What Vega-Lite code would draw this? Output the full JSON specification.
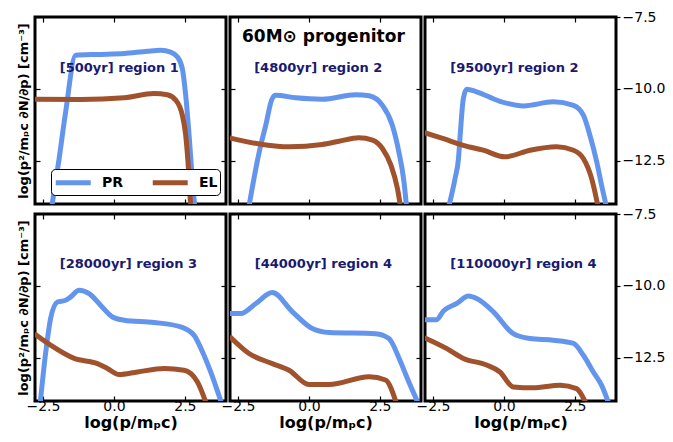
{
  "$schema": "https://vega.github.io/schema/vega-lite/v6.json",
  "background": "white",
  "padding": {"left": 15, "top": 8, "right": 0, "bottom": 0},
  "datasets": {
    "curves": [
      {"panel":1,"series":"PR","x":-2.22,"y":-14.3},{"panel":1,"series":"PR","x":-1.93,"y":-12.42},{"panel":1,"series":"PR","x":-1.70,"y":-10.80},{"panel":1,"series":"PR","x":-1.35,"y":-8.83},{"panel":1,"series":"PR","x":-0.58,"y":-8.80},{"panel":1,"series":"PR","x":0.36,"y":-8.77},{"panel":1,"series":"PR","x":1.18,"y":-8.69},{"panel":1,"series":"PR","x":1.65,"y":-8.66},{"panel":1,"series":"PR","x":2.0,"y":-8.72},{"panel":1,"series":"PR","x":2.24,"y":-8.89},{"panel":1,"series":"PR","x":2.41,"y":-9.29},{"panel":1,"series":"PR","x":2.53,"y":-10.22},{"panel":1,"series":"PR","x":2.65,"y":-11.61},{"panel":1,"series":"PR","x":2.76,"y":-13.11},{"panel":1,"series":"PR","x":2.87,"y":-14.3},
      {"panel":1,"series":"EL","x":-2.8,"y":-10.36},{"panel":1,"series":"EL","x":-1.17,"y":-10.37},{"panel":1,"series":"EL","x":0.36,"y":-10.31},{"panel":1,"series":"EL","x":1.41,"y":-10.16},{"panel":1,"series":"EL","x":1.88,"y":-10.2},{"panel":1,"series":"EL","x":2.18,"y":-10.39},{"panel":1,"series":"EL","x":2.41,"y":-10.91},{"panel":1,"series":"EL","x":2.53,"y":-11.61},{"panel":1,"series":"EL","x":2.61,"y":-12.53},{"panel":1,"series":"EL","x":2.7,"y":-13.98},{"panel":1,"series":"EL","x":2.73,"y":-14.3},
      {"panel":2,"series":"PR","x":-2.15,"y":-14.3},{"panel":2,"series":"PR","x":-1.75,"y":-12.19},{"panel":2,"series":"PR","x":-1.52,"y":-11.26},{"panel":2,"series":"PR","x":-1.30,"y":-10.35},{"panel":2,"series":"PR","x":-1.17,"y":-10.22},{"panel":2,"series":"PR","x":-0.46,"y":-10.31},{"panel":2,"series":"PR","x":0.47,"y":-10.36},{"panel":2,"series":"PR","x":1.65,"y":-10.2},{"panel":2,"series":"PR","x":2.12,"y":-10.24},{"panel":2,"series":"PR","x":2.59,"y":-10.57},{"panel":2,"series":"PR","x":2.94,"y":-11.26},{"panel":2,"series":"PR","x":3.17,"y":-12.19},{"panel":2,"series":"PR","x":3.35,"y":-13.23},{"panel":2,"series":"PR","x":3.46,"y":-14.3},
      {"panel":2,"series":"EL","x":-2.8,"y":-11.70},{"panel":2,"series":"EL","x":-1.64,"y":-11.93},{"panel":2,"series":"EL","x":-0.7,"y":-12.01},{"panel":2,"series":"EL","x":0.47,"y":-11.93},{"panel":2,"series":"EL","x":1.06,"y":-11.82},{"panel":2,"series":"EL","x":1.76,"y":-11.7},{"panel":2,"series":"EL","x":2.24,"y":-11.78},{"panel":2,"series":"EL","x":2.59,"y":-12.07},{"panel":2,"series":"EL","x":2.89,"y":-12.65},{"panel":2,"series":"EL","x":3.12,"y":-13.46},{"panel":2,"series":"EL","x":3.26,"y":-14.3},
      {"panel":3,"series":"PR","x":-2.0,"y":-14.3},{"panel":3,"series":"PR","x":-1.72,"y":-13.11},{"panel":3,"series":"PR","x":-1.60,"y":-12.42},{"panel":3,"series":"PR","x":-1.54,"y":-11.61},{"panel":3,"series":"PR","x":-1.43,"y":-10.34},{"panel":3,"series":"PR","x":-1.31,"y":-10.01},{"panel":3,"series":"PR","x":-0.96,"y":-10.1},{"panel":3,"series":"PR","x":-0.14,"y":-10.43},{"panel":3,"series":"PR","x":0.69,"y":-10.59},{"panel":3,"series":"PR","x":1.74,"y":-10.45},{"panel":3,"series":"PR","x":2.45,"y":-10.57},{"panel":3,"series":"PR","x":2.8,"y":-10.91},{"panel":3,"series":"PR","x":3.03,"y":-11.61},{"panel":3,"series":"PR","x":3.27,"y":-12.53},{"panel":3,"series":"PR","x":3.44,"y":-13.34},{"panel":3,"series":"PR","x":3.66,"y":-14.3},
      {"panel":3,"series":"EL","x":-2.8,"y":-11.52},{"panel":3,"series":"EL","x":-2.13,"y":-11.73},{"panel":3,"series":"EL","x":-1.43,"y":-11.96},{"panel":3,"series":"EL","x":-0.73,"y":-12.13},{"panel":3,"series":"EL","x":0.04,"y":-12.36},{"panel":3,"series":"EL","x":0.92,"y":-12.13},{"panel":3,"series":"EL","x":1.86,"y":-12.01},{"panel":3,"series":"EL","x":2.45,"y":-12.13},{"panel":3,"series":"EL","x":2.8,"y":-12.42},{"panel":3,"series":"EL","x":3.09,"y":-13.11},{"panel":3,"series":"EL","x":3.36,"y":-14.3},
      {"panel":4,"series":"PR","x":-2.62,"y":-14.3},{"panel":4,"series":"PR","x":-2.40,"y":-12.29},{"panel":4,"series":"PR","x":-2.23,"y":-11.13},{"panel":4,"series":"PR","x":-1.99,"y":-10.56},{"panel":4,"series":"PR","x":-1.70,"y":-10.5},{"panel":4,"series":"PR","x":-1.52,"y":-10.38},{"panel":4,"series":"PR","x":-1.23,"y":-10.15},{"panel":4,"series":"PR","x":-0.87,"y":-10.27},{"panel":4,"series":"PR","x":-0.47,"y":-10.67},{"panel":4,"series":"PR","x":-0.05,"y":-11.08},{"panel":4,"series":"PR","x":0.36,"y":-11.19},{"panel":4,"series":"PR","x":1.41,"y":-11.27},{"panel":4,"series":"PR","x":2.35,"y":-11.42},{"panel":4,"series":"PR","x":2.82,"y":-11.71},{"panel":4,"series":"PR","x":3.12,"y":-12.29},{"panel":4,"series":"PR","x":3.41,"y":-12.99},{"panel":4,"series":"PR","x":3.80,"y":-14.1},
      {"panel":4,"series":"EL","x":-2.8,"y":-11.66},{"panel":4,"series":"EL","x":-2.23,"y":-12.06},{"panel":4,"series":"EL","x":-1.4,"y":-12.52},{"panel":4,"series":"EL","x":-0.58,"y":-12.7},{"panel":4,"series":"EL","x":-0.23,"y":-12.87},{"panel":4,"series":"EL","x":0.18,"y":-13.08},{"panel":4,"series":"EL","x":0.83,"y":-12.99},{"panel":4,"series":"EL","x":1.77,"y":-12.87},{"panel":4,"series":"EL","x":2.47,"y":-12.93},{"panel":4,"series":"EL","x":2.94,"y":-13.33},{"panel":4,"series":"EL","x":3.26,"y":-14.1},
      {"panel":5,"series":"PR","x":-2.8,"y":-10.96},{"panel":5,"series":"PR","x":-2.4,"y":-10.96},{"panel":5,"series":"PR","x":-1.87,"y":-10.61},{"panel":5,"series":"PR","x":-1.29,"y":-10.23},{"panel":5,"series":"PR","x":-0.58,"y":-10.9},{"panel":5,"series":"PR","x":0.12,"y":-11.48},{"panel":5,"series":"PR","x":0.71,"y":-11.62},{"panel":5,"series":"PR","x":2.35,"y":-11.66},{"panel":5,"series":"PR","x":2.82,"y":-11.83},{"panel":5,"series":"PR","x":3.18,"y":-12.52},{"panel":5,"series":"PR","x":3.47,"y":-13.22},{"panel":5,"series":"PR","x":3.86,"y":-14.1},
      {"panel":5,"series":"EL","x":-2.8,"y":-11.75},{"panel":5,"series":"EL","x":-2.11,"y":-12.35},{"panel":5,"series":"EL","x":-1.29,"y":-12.7},{"panel":5,"series":"EL","x":-0.7,"y":-12.93},{"panel":5,"series":"EL","x":0.0,"y":-13.43},{"panel":5,"series":"EL","x":0.71,"y":-13.43},{"panel":5,"series":"EL","x":2.12,"y":-13.16},{"panel":5,"series":"EL","x":2.7,"y":-13.27},{"panel":5,"series":"EL","x":3.09,"y":-14.1},
      {"panel":6,"series":"PR","x":-2.8,"y":-11.18},{"panel":6,"series":"PR","x":-2.38,"y":-11.18},{"panel":6,"series":"PR","x":-2.13,"y":-10.87},{"panel":6,"series":"PR","x":-1.66,"y":-10.61},{"panel":6,"series":"PR","x":-1.25,"y":-10.35},{"panel":6,"series":"PR","x":-0.96,"y":-10.44},{"panel":6,"series":"PR","x":-0.37,"y":-10.9},{"panel":6,"series":"PR","x":0.33,"y":-11.66},{"panel":6,"series":"PR","x":0.92,"y":-11.83},{"panel":6,"series":"PR","x":1.74,"y":-11.89},{"panel":6,"series":"PR","x":2.45,"y":-12.0},{"panel":6,"series":"PR","x":2.8,"y":-12.41},{"panel":6,"series":"PR","x":3.15,"y":-12.99},{"panel":6,"series":"PR","x":3.44,"y":-13.45},{"panel":6,"series":"PR","x":3.70,"y":-14.1},
      {"panel":6,"series":"EL","x":-2.8,"y":-11.8},{"panel":6,"series":"EL","x":-2.01,"y":-12.18},{"panel":6,"series":"EL","x":-1.43,"y":-12.52},{"panel":6,"series":"EL","x":-0.61,"y":-12.75},{"panel":6,"series":"EL","x":-0.14,"y":-12.99},{"panel":6,"series":"EL","x":0.33,"y":-13.51},{"panel":6,"series":"EL","x":1.03,"y":-13.54},{"panel":6,"series":"EL","x":1.98,"y":-13.45},{"panel":6,"series":"EL","x":2.56,"y":-13.57},{"panel":6,"series":"EL","x":2.90,"y":-14.1}
    ],
    "labels": [
      {"panel":1,"x":0.19,"y":-9.27,"text":"[500yr] region 1"},
      {"panel":2,"x":0.33,"y":-9.27,"text":"[4800yr] region 2"},
      {"panel":3,"x":0.37,"y":-9.27,"text":"[9500yr] region 2"},
      {"panel":4,"x":0.51,"y":-9.24,"text":"[28000yr] region 3"},
      {"panel":5,"x":0.51,"y":-9.24,"text":"[44000yr] region 4"},
      {"panel":6,"x":0.69,"y":-9.24,"text":"[110000yr] region 4"}
    ],
    "heading": [
      {"panel":2,"x":0.51,"y":-8.19,"text":"60M⊙ progenitor"}
    ]
  },
  "columns": 3,
  "spacing": {"row": 10, "column": 4},
  "bounds": "flush",
  "resolve": {"legend": {"color": "independent"}},
  "concat": [
    {
      "width": 191, "height": 187,
      "resolve": {"axis": {"x": "independent", "y": "independent"}},
      "layer": [
        {"data": {"name": "curves"}, "transform": [{"filter": "datum.panel == 1"}],
         "mark": {"type": "line", "strokeWidth": 5, "clip": true, "interpolate": "monotone"},
         "encoding": {
           "x": {"field": "x", "type": "quantitative", "scale": {"domain": [-2.78, 3.95], "nice": false, "zero": false}, "axis": {"orient": "bottom", "values": [-2.5, 0, 2.5], "labels": false, "title": null}},
           "y": {"field": "y", "type": "quantitative", "scale": {"domain": [-14, -7.5], "nice": false, "zero": false}, "axis": {"orient": "left", "values": [-7.5, -10, -12.5], "labels": false, "title": "log(p²/mₚc ∂N/∂p) [cm⁻³]", "titleFontSize": 13, "titlePadding": 4}},
           "color": {"field": "series", "type": "nominal", "scale": {"domain": ["PR", "EL"], "range": ["#6495ED", "#A0522D"]},
             "legend": {"orient": "none", "legendX": 16, "legendY": 152, "direction": "horizontal", "title": null, "symbolType": "M-1,0H3", "symbolStrokeWidth": 5, "symbolSize": 306, "labelFontSize": 14, "labelFontWeight": "bold", "labelColor": "#000", "strokeColor": "#000", "fillColor": "#fff", "cornerRadius": 4, "padding": 2, "columnPadding": 18, "labelOffset": 26}}
         }},
        {"data": {"name": "labels"}, "transform": [{"filter": "datum.panel == 1"}],
         "mark": {"type": "text", "fontSize": 13, "fontWeight": "bold", "color": "#191970"},
         "encoding": {
           "x": {"field": "x", "type": "quantitative", "scale": {"domain": [-2.78, 3.95], "nice": false, "zero": false}, "axis": {"orient": "top", "values": [-2.5, 0, 2.5], "labels": false, "title": null}},
           "y": {"field": "y", "type": "quantitative", "scale": {"domain": [-14, -7.5], "nice": false, "zero": false}, "axis": {"orient": "right", "values": [-7.5, -10, -12.5], "labels": false, "title": null}},
           "text": {"field": "text"}
         }}
      ]
    },
    {
      "width": 191, "height": 187,
      "resolve": {"axis": {"x": "independent", "y": "independent"}},
      "layer": [
        {"data": {"name": "curves"}, "transform": [{"filter": "datum.panel == 2"}],
         "mark": {"type": "line", "strokeWidth": 5, "clip": true, "interpolate": "monotone"},
         "encoding": {
           "x": {"field": "x", "type": "quantitative", "scale": {"domain": [-2.78, 3.95], "nice": false, "zero": false}, "axis": {"orient": "bottom", "values": [-2.5, 0, 2.5], "labels": false, "title": null}},
           "y": {"field": "y", "type": "quantitative", "scale": {"domain": [-14, -7.5], "nice": false, "zero": false}, "axis": {"orient": "left", "values": [-7.5, -10, -12.5], "labels": false, "title": null}},
           "color": {"field": "series", "type": "nominal", "scale": {"domain": ["PR", "EL"], "range": ["#6495ED", "#A0522D"]}, "legend": null}
         }},
        {"data": {"name": "labels"}, "transform": [{"filter": "datum.panel == 2"}],
         "mark": {"type": "text", "fontSize": 13, "fontWeight": "bold", "color": "#191970"},
         "encoding": {
           "x": {"field": "x", "type": "quantitative", "scale": {"domain": [-2.78, 3.95], "nice": false, "zero": false}, "axis": {"orient": "top", "values": [-2.5, 0, 2.5], "labels": false, "title": null}},
           "y": {"field": "y", "type": "quantitative", "scale": {"domain": [-14, -7.5], "nice": false, "zero": false}, "axis": {"orient": "right", "values": [-7.5, -10, -12.5], "labels": false, "title": null}},
           "text": {"field": "text"}
         }},
        {"data": {"name": "heading"},
         "mark": {"type": "text", "fontSize": 17, "fontWeight": "bold", "color": "#000"},
         "encoding": {
           "x": {"field": "x", "type": "quantitative", "axis": null},
           "y": {"field": "y", "type": "quantitative", "axis": null},
           "text": {"field": "text"}
         }}
      ]
    },
    {
      "width": 191, "height": 187,
      "resolve": {"axis": {"x": "independent", "y": "independent"}},
      "layer": [
        {"data": {"name": "curves"}, "transform": [{"filter": "datum.panel == 3"}],
         "mark": {"type": "line", "strokeWidth": 5, "clip": true, "interpolate": "monotone"},
         "encoding": {
           "x": {"field": "x", "type": "quantitative", "scale": {"domain": [-2.78, 3.95], "nice": false, "zero": false}, "axis": {"orient": "bottom", "values": [-2.5, 0, 2.5], "labels": false, "title": null}},
           "y": {"field": "y", "type": "quantitative", "scale": {"domain": [-14, -7.5], "nice": false, "zero": false}, "axis": {"orient": "left", "values": [-7.5, -10, -12.5], "labels": false, "title": null}},
           "color": {"field": "series", "type": "nominal", "scale": {"domain": ["PR", "EL"], "range": ["#6495ED", "#A0522D"]}, "legend": null}
         }},
        {"data": {"name": "labels"}, "transform": [{"filter": "datum.panel == 3"}],
         "mark": {"type": "text", "fontSize": 13, "fontWeight": "bold", "color": "#191970"},
         "encoding": {
           "x": {"field": "x", "type": "quantitative", "scale": {"domain": [-2.78, 3.95], "nice": false, "zero": false}, "axis": {"orient": "top", "values": [-2.5, 0, 2.5], "labels": false, "title": null}},
           "y": {"field": "y", "type": "quantitative", "scale": {"domain": [-14, -7.5], "nice": false, "zero": false}, "axis": {"orient": "right", "values": [-7.5, -10, -12.5], "format": ".1f", "labels": true, "tickSize": 4, "labelPadding": 2, "title": null}},
           "text": {"field": "text"}
         }}
      ]
    },
    {
      "width": 191, "height": 187,
      "resolve": {"axis": {"x": "independent", "y": "independent"}},
      "layer": [
        {"data": {"name": "curves"}, "transform": [{"filter": "datum.panel == 4"}],
         "mark": {"type": "line", "strokeWidth": 5, "clip": true, "interpolate": "monotone"},
         "encoding": {
           "x": {"field": "x", "type": "quantitative", "scale": {"domain": [-2.78, 3.95], "nice": false, "zero": false}, "axis": {"orient": "bottom", "values": [-2.5, 0, 2.5], "format": ".1f", "labels": true, "title": "log(p/mₚc)", "titleFontSize": 16, "titlePadding": 1, "labelPadding": 3}},
           "y": {"field": "y", "type": "quantitative", "scale": {"domain": [-14, -7.5], "nice": false, "zero": false}, "axis": {"orient": "left", "values": [-7.5, -10, -12.5], "labels": false, "title": "log(p²/mₚc ∂N/∂p) [cm⁻³]", "titleFontSize": 13, "titlePadding": 4}},
           "color": {"field": "series", "type": "nominal", "scale": {"domain": ["PR", "EL"], "range": ["#6495ED", "#A0522D"]}, "legend": null}
         }},
        {"data": {"name": "labels"}, "transform": [{"filter": "datum.panel == 4"}],
         "mark": {"type": "text", "fontSize": 13, "fontWeight": "bold", "color": "#191970"},
         "encoding": {
           "x": {"field": "x", "type": "quantitative", "scale": {"domain": [-2.78, 3.95], "nice": false, "zero": false}, "axis": {"orient": "top", "values": [-2.5, 0, 2.5], "labels": false, "title": null}},
           "y": {"field": "y", "type": "quantitative", "scale": {"domain": [-14, -7.5], "nice": false, "zero": false}, "axis": {"orient": "right", "values": [-7.5, -10, -12.5], "labels": false, "title": null}},
           "text": {"field": "text"}
         }}
      ]
    },
    {
      "width": 191, "height": 187,
      "resolve": {"axis": {"x": "independent", "y": "independent"}},
      "layer": [
        {"data": {"name": "curves"}, "transform": [{"filter": "datum.panel == 5"}],
         "mark": {"type": "line", "strokeWidth": 5, "clip": true, "interpolate": "monotone"},
         "encoding": {
           "x": {"field": "x", "type": "quantitative", "scale": {"domain": [-2.78, 3.95], "nice": false, "zero": false}, "axis": {"orient": "bottom", "values": [-2.5, 0, 2.5], "format": ".1f", "labels": true, "title": "log(p/mₚc)", "titleFontSize": 16, "titlePadding": 1, "labelPadding": 3}},
           "y": {"field": "y", "type": "quantitative", "scale": {"domain": [-14, -7.5], "nice": false, "zero": false}, "axis": {"orient": "left", "values": [-7.5, -10, -12.5], "labels": false, "title": null}},
           "color": {"field": "series", "type": "nominal", "scale": {"domain": ["PR", "EL"], "range": ["#6495ED", "#A0522D"]}, "legend": null}
         }},
        {"data": {"name": "labels"}, "transform": [{"filter": "datum.panel == 5"}],
         "mark": {"type": "text", "fontSize": 13, "fontWeight": "bold", "color": "#191970"},
         "encoding": {
           "x": {"field": "x", "type": "quantitative", "scale": {"domain": [-2.78, 3.95], "nice": false, "zero": false}, "axis": {"orient": "top", "values": [-2.5, 0, 2.5], "labels": false, "title": null}},
           "y": {"field": "y", "type": "quantitative", "scale": {"domain": [-14, -7.5], "nice": false, "zero": false}, "axis": {"orient": "right", "values": [-7.5, -10, -12.5], "labels": false, "title": null}},
           "text": {"field": "text"}
         }}
      ]
    },
    {
      "width": 191, "height": 187,
      "resolve": {"axis": {"x": "independent", "y": "independent"}},
      "layer": [
        {"data": {"name": "curves"}, "transform": [{"filter": "datum.panel == 6"}],
         "mark": {"type": "line", "strokeWidth": 5, "clip": true, "interpolate": "monotone"},
         "encoding": {
           "x": {"field": "x", "type": "quantitative", "scale": {"domain": [-2.78, 3.95], "nice": false, "zero": false}, "axis": {"orient": "bottom", "values": [-2.5, 0, 2.5], "format": ".1f", "labels": true, "title": "log(p/mₚc)", "titleFontSize": 16, "titlePadding": 1, "labelPadding": 3}},
           "y": {"field": "y", "type": "quantitative", "scale": {"domain": [-14, -7.5], "nice": false, "zero": false}, "axis": {"orient": "left", "values": [-7.5, -10, -12.5], "labels": false, "title": null}},
           "color": {"field": "series", "type": "nominal", "scale": {"domain": ["PR", "EL"], "range": ["#6495ED", "#A0522D"]}, "legend": null}
         }},
        {"data": {"name": "labels"}, "transform": [{"filter": "datum.panel == 6"}],
         "mark": {"type": "text", "fontSize": 13, "fontWeight": "bold", "color": "#191970"},
         "encoding": {
           "x": {"field": "x", "type": "quantitative", "scale": {"domain": [-2.78, 3.95], "nice": false, "zero": false}, "axis": {"orient": "top", "values": [-2.5, 0, 2.5], "labels": false, "title": null}},
           "y": {"field": "y", "type": "quantitative", "scale": {"domain": [-14, -7.5], "nice": false, "zero": false}, "axis": {"orient": "right", "values": [-7.5, -10, -12.5], "format": ".1f", "labels": true, "tickSize": 4, "labelPadding": 2, "title": null}},
           "text": {"field": "text"}
         }}
      ]
    }
  ],
  "config": {
    "font": "DejaVu Sans",
    "view": {"stroke": "#000", "strokeWidth": 3},
    "axis": {"domain": false, "grid": false, "tickColor": "#000", "tickSize": -5, "tickWidth": 1.2, "labelFontSize": 14, "labelColor": "#000", "labelFont": "DejaVu Sans", "titleFont": "DejaVu Sans", "titleFontWeight": "bold", "titleColor": "#000"},
    "legend": {"labelFont": "DejaVu Sans"}
  }
}
